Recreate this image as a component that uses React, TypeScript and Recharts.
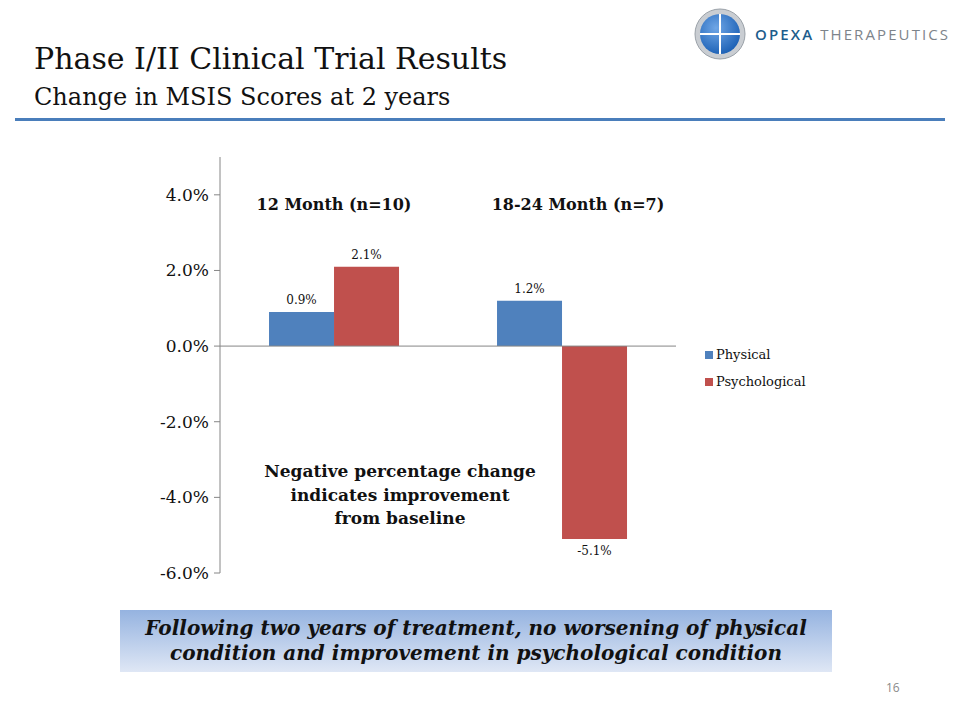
import React from 'react';
import { BarChart, Bar, XAxis, YAxis, ReferenceLine, LabelList } from 'recharts';

// Values (percent change in MSIS score)
const groups = ['12 Month (n=10)', '18-24 Month (n=7)'];
const physical = [0.9, 1.2];
const psychological = [2.1, -5.1];
const yTicks = [-6, -4, -2, 0, 2, 4];

const data = groups.map((g, i) => ({ group: g, physical: physical[i], psychological: psychological[i] }));

const SERIF = '"DejaVu Serif", Georgia, serif';
const BLUE = '#4f81bd';
const RED = '#c0504d';

const series = [
  { key: 'physical', name: 'Physical', color: BLUE },
  { key: 'psychological', name: 'Psychological', color: RED },
];

const fmt = (v: number) => `${v.toFixed(1)}%`;

// category labels are drawn inside the plot, under the top edge
const GroupTick = (props: any) => {
  const { x, y, payload, index } = props;
  return (
    <text x={x + (index === 1 ? 16 : 0)} y={y + 61} textAnchor="middle" fontFamily={SERIF} fontWeight="bold" fontSize={16} fill="#111">
      {payload.value}
    </text>
  );
};

const Logo = () => (
  <div style={{ position: 'absolute', left: 694, top: 8, width: 266, display: 'flex', alignItems: 'center', whiteSpace: 'nowrap' }}>
    <svg width={52} height={52}>
      <defs>
        <radialGradient id="lg" cx="40%" cy="35%" r="70%">
          <stop offset="0%" stopColor="#6fa6e6" />
          <stop offset="100%" stopColor="#1a5fb4" />
        </radialGradient>
      </defs>
      <circle cx={26} cy={26} r={25} fill="#c9cdd2" stroke="#9aa1a8" />
      <circle cx={26} cy={26} r={20} fill="url(#lg)" />
      <line x1={26} y1={6} x2={26} y2={46} stroke="#fff" strokeWidth={2} />
      <line x1={6} y1={26} x2={46} y2={26} stroke="#fff" strokeWidth={2} />
    </svg>
    <div style={{ marginLeft: 9, fontFamily: '"Open Sans", "DejaVu Sans", sans-serif', fontSize: 15, letterSpacing: 2.1 }}>
      <span style={{ color: '#1d5d8c', fontWeight: 600 }}>OPEXA</span>
      <span style={{ color: '#7d848b' }}> THERAPEUTICS</span>
    </div>
  </div>
);

export default function App() {
  return (
    <div style={{ position: 'absolute', left: 0, top: 0, width: 960, height: 720, background: '#fff', overflow: 'hidden' }}>
      <Logo />
      <div style={{ position: 'absolute', left: 34, top: 41, fontFamily: SERIF, fontSize: 30, color: '#111', whiteSpace: 'nowrap' }}>
        Phase I/II Clinical Trial Results
      </div>
      <div style={{ position: 'absolute', left: 34, top: 83, fontFamily: SERIF, fontSize: 24, color: '#111', whiteSpace: 'nowrap' }}>
        Change in MSIS Scores at 2 years
      </div>
      <div style={{ position: 'absolute', left: 15, top: 118, width: 930, height: 3, background: '#4a7ebb' }} />

      <div style={{ position: 'absolute', left: 140, top: 140 }}>
        <BarChart width={720} height={460} data={data} margin={{ top: 16, right: 184, bottom: 27, left: 20 }} barGap={0} barCategoryGap="21.5%">
          <XAxis dataKey="group" orientation="top" height={1} axisLine={false} tickLine={false} tick={<GroupTick />} interval={0} />
          <YAxis
            domain={[-6, 5]}
            ticks={yTicks}
            tickFormatter={fmt}
            width={60}
            axisLine={{ stroke: '#868686' }}
            tickLine={{ stroke: '#868686' }}
            tickSize={6}
            tickMargin={5}
            tick={{ fontFamily: SERIF, fontSize: 17, fill: '#111' }}
          />
          <ReferenceLine y={0} stroke="#868686" />
          {series.map((s) => (
            <Bar key={s.key} dataKey={s.key} name={s.name} fill={s.color} isAnimationActive={false}>
              <LabelList dataKey={s.key} position="top" offset={8} formatter={(v: any) => fmt(v)} style={{ fontFamily: SERIF, fontSize: 12, fill: '#111' }} />
            </Bar>
          ))}
        </BarChart>
      </div>

      {/* legend */}
      <div style={{ position: 'absolute', left: 705, top: 341, fontFamily: SERIF, fontSize: 13, color: '#111' }}>
        {series.map((s) => (
          <div key={s.key} style={{ display: 'flex', alignItems: 'center', height: 27 }}>
            <span style={{ width: 8, height: 8, background: s.color, marginRight: 3 }} />
            {s.name}
          </div>
        ))}
      </div>

      <div style={{ position: 'absolute', left: 235, top: 460, width: 330, textAlign: 'center', fontFamily: SERIF, fontWeight: 'bold', fontSize: 17, lineHeight: '23.5px', color: '#111' }}>
        Negative percentage change
        <br />indicates improvement
        <br />from baseline
      </div>

      <div
        style={{
          position: 'absolute', left: 120, top: 610, width: 712, height: 62,
          background: 'linear-gradient(#95b3e0, #dfe7f5)',
          display: 'flex', alignItems: 'center', justifyContent: 'center', textAlign: 'center',
          fontFamily: SERIF, fontStyle: 'italic', fontWeight: 'bold', fontSize: 20, lineHeight: '25px', color: '#111', whiteSpace: 'nowrap',
        }}
      >
        Following two years of treatment, no worsening of physical
        <br />condition and improvement in psychological condition
      </div>
      <div style={{ position: 'absolute', left: 886, top: 679, fontFamily: '"Open Sans", sans-serif', fontSize: 12, color: '#8a8a8a' }}>16</div>
    </div>
  );
}
